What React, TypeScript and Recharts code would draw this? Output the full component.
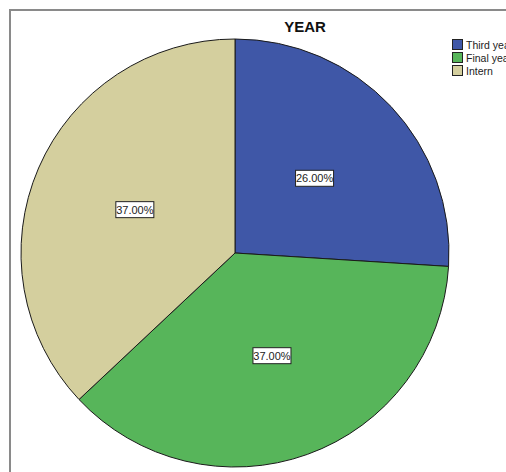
import { PieChart, Pie, Cell, Legend } from 'recharts'

const categories = ['Third year', 'Final year', 'Intern']
const percents = [26, 37, 37]
const colors = ['#3f57a7', '#57b55a', '#d4cf9e']

const data = categories.map((name, i) => ({ name, value: percents[i], color: colors[i] }))

const RAD = Math.PI / 180
const FONT = "Arial, 'Liberation Sans', sans-serif"

function BoxLabel(props: any) {
  const { cx, cy, midAngle, outerRadius, value } = props
  const r = outerRadius * 0.51
  const x = cx + r * Math.cos(-midAngle * RAD)
  const y = cy + r * Math.sin(-midAngle * RAD)
  const w = 38
  const h = 16
  return (
    <g>
      <rect x={x - w / 2} y={y - h / 2} width={w} height={h} fill="#ffffff" stroke="#222" strokeWidth={1} />
      <text x={x} y={y + 4} textAnchor="middle" fontSize={11} fontFamily={FONT} fill="#222">
        {value.toFixed(2)}%
      </text>
    </g>
  )
}

// legend keeps the data order (recharts would reorder the payload)
function LegendBox() {
  return (
    <div style={{ fontFamily: FONT, fontSize: 10.5, color: '#222', whiteSpace: 'nowrap' }}>
      {data.map((d, i) => (
        <div key={i} style={{ display: 'flex', alignItems: 'center', height: 13 }}>
          <span style={{ display: 'inline-block', width: 9, height: 9, background: d.color, border: '1px solid #222', marginRight: 3 }} />
          <span>{d.name}</span>
        </div>
      ))}
    </div>
  )
}

export default function App() {
  return (
    <div style={{ position: 'absolute', left: 0, top: 0, width: 506, height: 472, overflow: 'hidden', background: '#fff' }}>
      {/* frame */}
      <div style={{ position: 'absolute', left: 9, top: 9, width: 700, height: 700, borderTop: '2px solid #8a8a8a', borderLeft: '2px solid #8a8a8a' }} />
      <div style={{ position: 'absolute', left: 0, top: 18, width: 610, textAlign: 'center', fontFamily: FONT, fontWeight: 'bold', fontSize: 15, color: '#111' }}>
        YEAR
      </div>
      <PieChart width={506} height={472} margin={{ top: 0, right: 0, bottom: 0, left: 0 }} style={{ position: 'absolute', left: 0, top: 0 }}>
        <Pie
          data={data}
          dataKey="value"
          nameKey="name"
          cx={235}
          cy={253}
          outerRadius={214}
          startAngle={90}
          endAngle={-270}
          stroke="#1a1a1a"
          strokeWidth={1}
          labelLine={false}
          label={BoxLabel}
          isAnimationActive={false}
        >
          {data.map((d, i) => (
            <Cell key={i} fill={d.color} />
          ))}
        </Pie>
        <Legend
          layout="vertical"
          content={<LegendBox />}
          wrapperStyle={{ position: 'absolute', left: 452, top: 38, width: 100 }}
        />
      </PieChart>
    </div>
  )
}
